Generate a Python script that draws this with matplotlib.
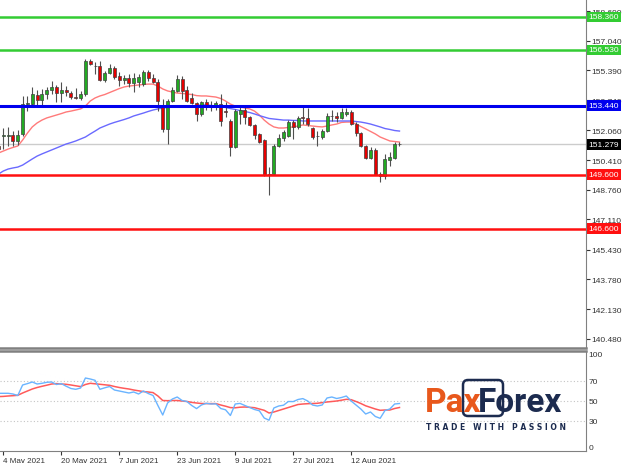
import numpy as np
import matplotlib
matplotlib.use("Agg")
import matplotlib.pyplot as plt
import matplotlib.transforms as mtransforms
from matplotlib.patches import FancyBboxPatch

plt.rcParams['font.family'] = ['Liberation Sans', 'DejaVu Sans']

# ---------------- data (bar index -1 .. 82, 4 May 2021 = index 0) ----------------
opens = [151.19,
         151.75, 151.75, 151.80, 151.47, 151.86, 153.55, 153.52, 154.02, 153.75, 154.08,
         154.30, 154.47, 154.13, 154.30, 154.13, 153.91, 153.86, 154.08, 155.91, 155.63,
         155.63, 154.86, 155.25, 155.52, 155.08, 154.86, 154.97, 154.69, 154.75, 154.63,
         155.30, 154.97, 154.75, 153.41, 152.14, 153.69, 154.25, 154.91, 154.30, 153.86,
         153.58, 152.97, 153.63, 153.47, 153.41, 153.52, 153.13, 152.58, 151.14, 152.97,
         153.19, 152.80, 152.36, 151.86, 151.52, 149.64, 149.64, 151.19, 151.64, 151.75,
         152.52, 152.25, 152.80, 152.75, 152.19, 151.75, 151.69, 152.02, 152.86, 152.86,
         152.75, 152.97, 153.08, 152.41, 151.91, 151.19, 150.52, 150.97, 149.64, 149.52,
         150.41, 150.52, 151.30]
highs = [151.30,
         152.19, 152.25, 152.02, 152.08, 153.97, 153.97, 154.47, 154.30, 154.36, 154.47,
         154.80, 154.58, 154.75, 154.52, 154.25, 154.41, 154.25, 156.02, 156.02, 155.86,
         155.91, 155.36, 155.75, 155.63, 155.30, 155.13, 155.19, 155.25, 155.19, 155.41,
         155.41, 155.19, 154.91, 153.80, 153.80, 154.47, 155.13, 155.08, 154.52, 154.13,
         153.63, 153.69, 153.80, 153.69, 153.69, 154.08, 153.63, 152.69, 153.25, 153.36,
         153.41, 152.86, 152.41, 151.91, 151.58, 150.02, 151.30, 151.86, 152.08, 152.63,
         152.63, 152.86, 153.41, 153.30, 152.25, 152.02, 152.14, 153.02, 153.19, 153.08,
         153.30, 153.30, 153.19, 152.52, 151.97, 151.25, 151.14, 151.08, 149.75, 150.75,
         150.86, 151.41, 151.41]
lows = [150.86,
        151.02, 151.19, 151.19, 151.25, 151.75, 153.13, 153.41, 153.41, 153.41, 153.80,
        154.08, 153.63, 153.63, 153.97, 153.80, 153.80, 153.75, 153.97, 155.69, 155.19,
        154.80, 154.75, 155.19, 154.91, 154.52, 154.63, 154.47, 154.19, 154.47, 154.52,
        154.80, 154.69, 153.13, 151.97, 151.30, 153.63, 154.19, 153.80, 153.63, 153.52,
        152.58, 152.86, 153.19, 153.13, 153.19, 152.30, 152.80, 150.63, 151.08, 152.41,
        152.41, 152.30, 151.58, 151.36, 149.52, 148.47, 149.58, 151.14, 151.47, 151.69,
        151.58, 152.14, 152.41, 152.30, 151.58, 151.19, 151.58, 151.97, 152.58, 152.52,
        152.69, 152.86, 152.36, 151.75, 151.14, 150.47, 150.47, 149.58, 149.19, 149.36,
        150.08, 150.47, 151.19]
closes = [151.02,
          151.80, 151.77, 151.47, 151.80, 153.52, 153.58, 154.08, 153.75, 154.08, 154.30,
          154.47, 154.13, 154.30, 154.19, 153.91, 153.86, 154.08, 155.91, 155.77, 155.66,
          154.86, 155.25, 155.52, 155.02, 154.86, 154.97, 154.69, 154.97, 155.02, 155.30,
          154.97, 154.75, 153.69, 152.14, 153.69, 154.30, 154.91, 154.25, 153.69, 153.58,
          152.97, 153.63, 153.36, 153.44, 153.58, 152.58, 153.08, 151.14, 153.13, 153.19,
          152.80, 152.36, 151.80, 151.41, 149.58, 149.58, 151.19, 151.64, 151.97, 152.52,
          152.25, 152.75, 152.77, 152.41, 151.69, 151.72, 152.02, 152.86, 152.83, 152.75,
          153.08, 153.08, 152.41, 151.91, 151.19, 150.52, 150.97, 149.58, 149.52, 150.47,
          150.58, 151.30, 151.28]
ma_fast = [150.80,
           150.91, 151.02, 151.11, 151.19, 151.52, 151.91, 152.25, 152.47, 152.63, 152.75,
           152.83, 152.91, 152.99, 153.08, 153.13, 153.19, 153.25, 153.41, 153.69, 153.86,
           153.97, 154.05, 154.16, 154.27, 154.38, 154.47, 154.52, 154.55, 154.58, 154.61,
           154.63, 154.63, 154.52, 154.36, 154.25, 154.19, 154.13, 154.11, 154.08, 154.05,
           153.99, 153.97, 153.97, 153.94, 153.91, 153.83, 153.69, 153.52, 153.41, 153.36,
           153.30, 153.25, 153.13, 152.91, 152.63, 152.41, 152.25, 152.19, 152.19, 152.22,
           152.25, 152.30, 152.36, 152.33, 152.30, 152.27, 152.25, 152.30, 152.36, 152.41,
           152.50, 152.52, 152.52, 152.41, 152.27, 152.14, 152.00, 151.86, 151.69, 151.58,
           151.47, 151.44, 151.41]
ma_slow = [149.63,
           149.80, 149.91, 149.97, 150.02, 150.13, 150.30, 150.47, 150.63, 150.75, 150.86,
           150.97, 151.08, 151.19, 151.30, 151.38, 151.47, 151.58, 151.69, 151.86, 152.02,
           152.19, 152.30, 152.41, 152.50, 152.58, 152.66, 152.75, 152.86, 152.94, 153.02,
           153.11, 153.19, 153.25, 153.30, 153.33, 153.36, 153.38, 153.38, 153.41, 153.41,
           153.44, 153.47, 153.47, 153.44, 153.41, 153.38, 153.33, 153.27, 153.22, 153.16,
           153.11, 153.05, 152.97, 152.88, 152.80, 152.72, 152.69, 152.66, 152.63, 152.63,
           152.61, 152.61, 152.58, 152.58, 152.58, 152.58, 152.58, 152.58, 152.58, 152.58,
           152.58, 152.58, 152.58, 152.55, 152.52, 152.47, 152.41, 152.33, 152.25, 152.16,
           152.11, 152.05, 152.02]
rsi = [57.7,
       57.7, 57.7, 57.0, 55.5, 66.0, 67.4, 69.0, 67.0, 67.7, 68.7,
       69.0, 66.5, 67.4, 64.8, 62.5, 61.7, 63.0, 73.0, 72.0, 70.7,
       61.7, 63.2, 64.5, 61.0, 60.0, 59.0, 58.0, 59.0, 57.0, 60.0,
       57.5, 55.5, 45.5, 36.0, 48.0, 52.0, 54.0, 50.5, 49.5, 45.5,
       42.4, 46.0, 47.7, 47.0, 47.2, 42.5, 41.2, 35.5, 47.0, 47.6,
       45.5, 43.5, 41.5, 40.2, 33.0, 30.8, 43.0, 45.0, 45.8, 49.5,
       49.4, 51.5, 52.4, 50.0, 46.0, 45.0, 46.0, 53.0, 54.0, 52.5,
       53.5, 55.0, 50.0, 46.0, 42.0, 37.0, 39.0, 34.5, 32.7, 40.5,
       42.0, 47.0, 47.5]
rsi_signal = [54.4,
              54.6, 55.0, 55.3, 55.7, 58.0, 60.0, 62.0, 63.5, 64.7, 65.8,
              67.0, 67.4, 67.0, 66.7, 66.0, 65.2, 64.4, 66.5, 67.7, 67.2,
              66.7, 66.2, 65.7, 64.5, 63.5, 62.7, 62.0, 61.0, 60.2, 59.4,
              59.0, 58.4, 55.0, 50.5, 50.3, 50.5, 50.5, 50.0, 49.5, 48.6,
              48.0, 47.5, 47.4, 47.4, 47.4, 46.0, 44.8, 43.4, 43.2, 43.8,
              44.0, 43.7, 43.3, 42.0, 40.7, 38.0, 39.0, 40.5, 42.0, 43.5,
              45.0, 46.5, 47.0, 47.3, 47.5, 47.7, 48.4, 49.0, 49.5, 50.0,
              50.8, 51.7, 51.3, 49.5, 47.5, 45.2, 43.6, 42.0, 40.7, 41.0,
              41.0, 42.5, 43.5]

date_ticks = [0, 12, 24, 36, 48, 60, 72]
date_labels = ["4 May 2021", "20 May 2021", "7 Jun 2021", "23 Jun 2021",
               "9 Jul 2021", "27 Jul 2021", "12 Aug 2021"]
price_ticks = [158.690, 157.040, 155.390, 153.740, 152.060, 150.410,
               148.760, 147.110, 145.430, 143.780, 142.130, 140.480]
resistance = [158.360, 156.530]
pivot = [153.440]
support = [149.600, 146.600]
last_price = 151.279
osc_ticks = [100, 70, 50, 30, 0]
osc_levels = [30, 50, 70]

# ---------------- figure ----------------
W, H = 624, 464
fig = plt.figure(figsize=(W / 100, H / 100), dpi=100)
fig.patch.set_facecolor('white')
ax = fig.add_axes([0, 1 - 349 / H, 586 / W, 349 / H])
ax2 = fig.add_axes([0, 1 - 452 / H, 586 / W, 100 / H])

x = np.arange(-1, len(opens) - 1)
o = np.array(opens); c = np.array(closes)
hi = np.array(highs); lo = np.array(lows)
GREEN, RED = '#22aa22', '#e60000'
cols = np.where(c >= o, GREEN, RED)

ax.axhline(last_price, color='#cccccc', lw=1, zorder=1)
ax.plot(x, ma_fast, color='#ff7a7a', lw=1, zorder=2)
ax.plot(x, ma_slow, color='#6a6aff', lw=1, zorder=2)
ax.vlines(x, lo, hi, color='#505050', lw=0.8, zorder=3)
ax.bar(x, np.maximum(np.abs(c - o), 0.03), bottom=np.minimum(o, c), width=0.62,
       color=cols, edgecolor='#404040', linewidth=0.5, zorder=4)

for v in resistance:
    ax.axhline(v, color='#33cc33', lw=1.8, zorder=5)
for v in pivot:
    ax.axhline(v, color='#0000ee', lw=2.2, zorder=5)
for v in support:
    ax.axhline(v, color='#ff1010', lw=1.8, zorder=5)

ax.set_xlim(-0.68, 120.6)
ax.set_ylim(139.968, 159.357)
ax.set_xticks([])
ax.yaxis.tick_right()
ax.set_yticks(price_ticks)
ax.set_yticklabels([f"{v:.3f}" for v in price_ticks])
ax.tick_params(axis='y', direction='out', length=3, width=0.8, pad=0.8,
               colors='#333333', labelsize=6)
for s in ['left', 'top']:
    ax.spines[s].set_visible(False)
ax.spines['right'].set_color('#808080')
ax.spines['bottom'].set_color('#808080')
ax.spines['bottom'].set_linewidth(1.8)

blend = mtransforms.blended_transform_factory(ax.transAxes, ax.transData)
tags = [(v, '#33cc33') for v in resistance] + [(v, '#0000ee') for v in pivot] + \
       [(last_price, '#000000')] + [(v, '#ff1010') for v in support]
for v, col in tags:
    ax.text(1.0045, v, f"{v:.3f}", transform=blend, ha='left', va='center',
            fontsize=6, color='white', clip_on=False, zorder=10,
            bbox=dict(boxstyle='square,pad=0.2', fc=col, ec='none'))

# ---------------- oscillator ----------------
for v in osc_levels:
    ax2.axhline(v, color='#c4c4c4', lw=0.8, ls=(0, (1, 2)), zorder=1)
ax2.plot(x, rsi, color='#6ab4ff', lw=1, zorder=3)
ax2.plot(x, rsi_signal, color='#ff5a5a', lw=1.1, zorder=2)
ax2.set_xlim(-0.68, 120.6)
ax2.set_ylim(0, 100)
ax2.yaxis.tick_right()
ax2.set_yticks(osc_ticks)
ax2.set_yticklabels([str(v) for v in osc_ticks])
ax2.tick_params(axis='y', direction='out', length=0, pad=2, colors='#333333', labelsize=6)
for lab, v in zip(ax2.get_yticklabels(), osc_ticks):
    if v == 100:
        lab.set_va('top')
    elif v == 0:
        lab.set_va('bottom')
ax2.set_xticks(date_ticks)
ax2.set_xticklabels(date_labels, ha='left')
ax2.tick_params(axis='x', direction='out', length=3, width=0.8, pad=1,
                colors='#333333', labelsize=5.8)
ax2.spines['left'].set_visible(False)
for s in ['top', 'right', 'bottom']:
    ax2.spines[s].set_color('#808080')
ax2.spines['top'].set_linewidth(1.8)

# ---------------- logo ----------------
def fx(px):
    return px / W

def fy(py):
    return 1 - py / H

ORANGE, NAVY = '#e8581c', '#1c2b4f'
fig.text(fx(425), fy(412), "Pax", fontsize=24, fontweight='bold', color=ORANGE,
         family=['Roboto', 'DejaVu Sans'], va='baseline', ha='left')
fig.text(fx(478), fy(412), "Forex", fontsize=24, fontweight='bold', color=NAVY,
         family=['Roboto', 'DejaVu Sans'], va='baseline', ha='left')
box = FancyBboxPatch((463 / 100, (H - 417) / 100), 40 / 100, 36 / 100,
                     boxstyle='round,pad=0,rounding_size=0.05',
                     transform=fig.dpi_scale_trans, fc='none', ec=NAVY, lw=1.8)
fig.patches.append(box)
fig.text(fx(496.5), fy(428), "T R A D E   W I T H   P A S S I O N", fontsize=5.5,
         fontweight='bold', color=NAVY, ha='center', va='center',
         family=['DejaVu Sans'])

fig.savefig('out.png', dpi=100, facecolor='white')
